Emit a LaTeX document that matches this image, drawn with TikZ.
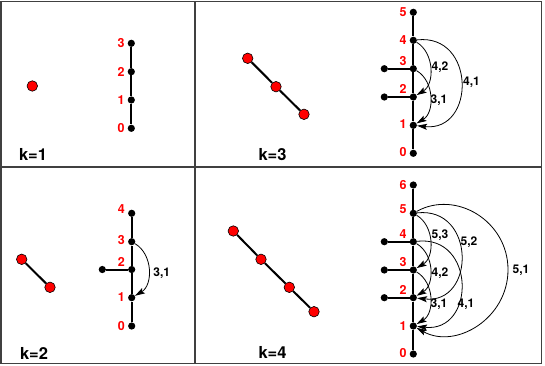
\documentclass[tikz,border=0pt]{standalone}
\usepackage{fontspec}
\setmainfont{TeX Gyre Heros}
\usetikzlibrary{arrows.meta}
\begin{document}
\begin{tikzpicture}[x=1pt,y=-1pt,
  dot/.style={circle,fill=black,inner sep=0pt,minimum size=7.2pt},
  rdot/.style={circle,fill=red,draw=black,line width=0.6pt,inner sep=0pt,minimum size=10.5pt},
  chain/.style={line width=2pt},
  num/.style={text=red,font=\bfseries\fontsize{12.5}{12.5}\selectfont,inner sep=0pt},
  klab/.style={font=\bfseries\fontsize{16.5}{16.5}\selectfont,inner sep=0pt},
  alab/.style={font=\bfseries\fontsize{12}{12}\selectfont,inner sep=0pt,text depth=0pt},
  jump/.style={line width=0.8pt,-{Stealth[length=10pt,width=6pt,inset=2pt]}},
  frame/.style={draw=black!75,line width=1.3pt}]
\useasboundingbox (0,0) rectangle (545,366);
% frame
\draw[frame] (1,1.5) rectangle (541.3,363.4);
\draw[frame] (195,1.5) -- (195,363.4);
\draw[frame] (1,167) -- (541.3,167);

% ---------- k=1 ----------
\node[rdot] (p1) at (32.3,86) {};
\node[dot] (a0) at (131.3,128.3) {};
\node[dot] (a1) at (131.3,100) {};
\node[dot] (a2) at (131.3,71.7) {};
\node[dot] (a3) at (131.3,43.3) {};
\draw[chain] (a0) -- (a1) -- (a2) -- (a3);
\node[num] (la0) at (121,128.3) {0};
\node[num] (la1) at (121,100) {1};
\node[num] (la2) at (121,71.7) {2};
\node[num] (la3) at (121,43.3) {3};
\node[klab] (k1) at (33,154) {k=1};

% ---------- k=3 ----------
\node[rdot] (q1) at (247.7,58.3) {};
\node[rdot] (q2) at (276,86.7) {};
\node[rdot] (q3) at (304,114.3) {};
\draw[chain] (q1) -- (q2) -- (q3);
\node[dot] (b0) at (413.3,153.3) {};
\node[dot] (b1) at (413.3,125.3) {};
\node[dot] (b2) at (413.3,97) {};
\node[dot] (b3) at (413.3,68.7) {};
\node[dot] (b4) at (413.3,40.3) {};
\node[dot] (b5) at (413.3,12.3) {};
\node[dot] (bs2) at (384.3,97) {};
\node[dot] (bs3) at (384.3,68.7) {};
\draw[chain] (b0) -- (b1) -- (b2) -- (b3) -- (b4) -- (b5);
\draw[chain] (bs2) -- (b2);
\draw[chain] (bs3) -- (b3);
\node[num] (lb0) at (403,152.5) {0};
\node[num] (lb1) at (403,124.5) {1};
\node[num] (lb2) at (403,89.3) {2};
\node[num] (lb3) at (403,60.7) {3};
\node[num] (lb4) at (403,40) {4};
\node[num] (lb5) at (403,12.3) {5};
\draw[jump] (b4) .. controls +(21.4,12.6) and +(21.4,-12.6) .. (b2);
\draw[jump] (b3) .. controls +(21.4,12.6) and +(21.4,-12.6) .. (b1);
\draw[jump] (b4) .. controls +(62.6,-7) and +(62.6,7) .. (b1);
\node[alab] (tb42) at (440,66) {4,2};
\node[alab] (tb31) at (439,99.5) {3,1};
\node[alab] (tb41) at (471.5,81.7) {4,1};
\node[klab] (k3) at (272.5,155) {k=3};

% ---------- k=2 ----------
\node[rdot] (u1) at (21.7,259.3) {};
\node[rdot] (u2) at (50,287.3) {};
\draw[chain] (u1) -- (u2);
\node[dot] (c0) at (131.7,326) {};
\node[dot] (c1) at (131.7,297.7) {};
\node[dot] (c2) at (131.7,269.5) {};
\node[dot] (c3) at (131.7,241.7) {};
\node[dot] (c4) at (131.7,213.3) {};
\node[dot] (cs2) at (102.3,269.5) {};
\draw[chain] (c0) -- (c1) -- (c2) -- (c3) -- (c4);
\draw[chain] (cs2) -- (c2);
\node[num] (lc0) at (121.4,325.7) {0};
\node[num] (lc1) at (121.4,297) {1};
\node[num] (lc2) at (121.4,261.7) {2};
\node[num] (lc3) at (121.4,240.5) {3};
\node[num] (lc4) at (121.4,209.5) {4};
\draw[jump] (c3) .. controls +(21.4,12.6) and +(21.4,-12.6) .. (c1);
\node[alab] (tc31) at (161.7,271.7) {3,1};
\node[klab] (k2) at (34,353) {k=2};

% ---------- k=4 ----------
\node[rdot] (v1) at (233.3,231) {};
\node[rdot] (v2) at (261,259.3) {};
\node[rdot] (v3) at (289.3,287.3) {};
\node[rdot] (v4) at (314,311.7) {};
\draw[chain] (v1) -- (v2) -- (v3) -- (v4);
\node[dot] (d0) at (413.3,354) {};
\node[dot] (d1) at (413.3,326) {};
\node[dot] (d2) at (413.3,297.7) {};
\node[dot] (d3) at (413.3,270) {};
\node[dot] (d4) at (413.3,241.7) {};
\node[dot] (d5) at (413.3,213.3) {};
\node[dot] (d6) at (413.3,185) {};
\node[dot] (ds2) at (384.3,297.7) {};
\node[dot] (ds3) at (384.3,270) {};
\node[dot] (ds4) at (384.3,241.7) {};
\draw[chain] (d0) -- (d1) -- (d2) -- (d3) -- (d4) -- (d5) -- (d6);
\draw[chain] (ds2) -- (d2);
\draw[chain] (ds3) -- (d3);
\draw[chain] (ds4) -- (d4);
\node[num] (ld0) at (403,353.5) {0};
\node[num] (ld1) at (403,325.7) {1};
\node[num] (ld2) at (403,290) {2};
\node[num] (ld3) at (403,262) {3};
\node[num] (ld4) at (403,234) {4};
\node[num] (ld5) at (403,209) {5};
\node[num] (ld6) at (403,185) {6};
\draw[jump] (d5) .. controls +(21.4,12.6) and +(21.4,-12.6) .. (d3);
\draw[jump] (d4) .. controls +(21.4,12.6) and +(21.4,-12.6) .. (d2);
\draw[jump] (d3) .. controls +(21.4,12.6) and +(21.4,-12.6) .. (d1);
\draw[jump] (d5) .. controls +(62.6,-7) and +(62.6,7) .. (d2);
\draw[jump] (d4) .. controls +(62.6,-7) and +(62.6,7) .. (d1);
\coordinate (m51) at (508,269.7);
\draw[jump] (d5) .. controls (455.7,189.6) and (508,220.9) .. (m51)
  .. controls (508,318.5) and (455.7,349.7) .. (d1);
\node[alab] (td53) at (440,234) {5,3};
\node[alab] (td52) at (469,241) {5,2};
\node[alab] (td42) at (440,272.5) {4,2};
\node[alab] (td31) at (439,303.5) {3,1};
\node[alab] (td41) at (466,303.5) {4,1};
\node[alab] (td51) at (521,269.7) {5,1};
\node[klab] (k4) at (272.5,352.5) {k=4};
\end{tikzpicture}
\end{document}
